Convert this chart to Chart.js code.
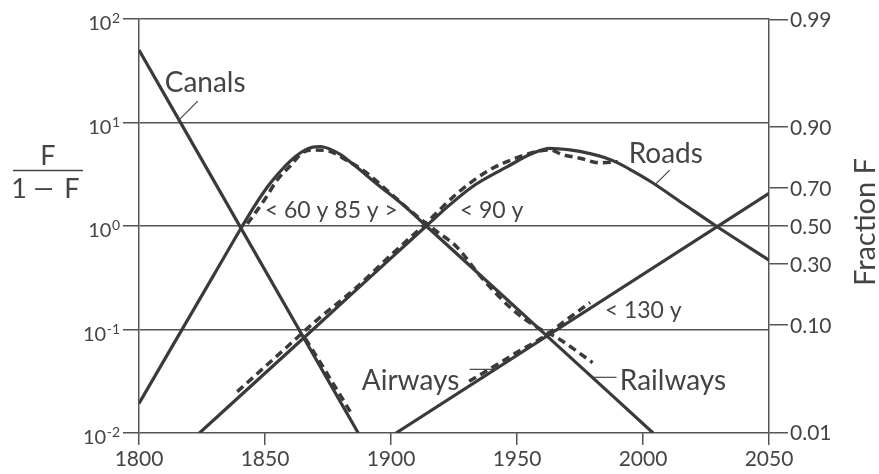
<!DOCTYPE html>
<html>
<head>
<meta charset="utf-8">
<style>
  html, body { margin: 0; padding: 0; background: #fff; }
  #wrap { width: 879px; height: 474px; }
</style>
<script src="https://cdn.jsdelivr.net/npm/chart.js@4.4.1/dist/chart.umd.min.js"></script>
</head>
<body>
<div id="wrap"><canvas id="chart" width="879" height="474"></canvas></div>
<script>
// Substitution of transport infrastructures: share F of total length, plotted as F/(1-F)

// axis ticks
const yearTicks = [1800, 1850, 1900, 1950, 2000, 2050];
const decadeTicks = [0.01, 0.1, 1, 10, 100];
const decadeExponents = ['-2', '-1', '0', '1', '2'];
const fractionTicks = [0.01, 0.10, 0.30, 0.50, 0.70, 0.90, 0.99];

// fitted trajectories (solid)
const canalsFitYears = [1800, 1887];
const canalsFitValues = [50.1, 0.01];
const railwaysFitYears = [1800, 1830, 1841, 1846, 1852, 1858, 1862, 1866, 1869, 1872, 1876, 1880, 1885, 1895, 1905, 1914, 1960, 2004];
const railwaysFitValues = [0.0193, 0.347, 1.0, 1.585, 2.57, 3.80, 4.68, 5.43, 5.78, 5.86, 5.50, 4.90, 3.94, 2.48, 1.585, 1.0, 0.0955, 0.01];
const roadsFitYears = [1824, 1870, 1900, 1914, 1920, 1932, 1946, 1956, 1963, 1971, 1979, 1985, 1990, 1996, 2003, 2016, 2029, 2050];
const roadsFitValues = [0.01, 0.105, 0.490, 1.0, 1.36, 2.37, 3.72, 5.01, 5.62, 5.43, 5.01, 4.57, 4.07, 3.39, 2.69, 1.64, 1.0, 0.468];
const airwaysFitYears = [1902, 2050];
const airwaysFitValues = [0.01, 2.07];

// observed shares (dashed)
const canalsObsYears = [1866, 1875, 1884];
const canalsObsValues = [0.0822, 0.0363, 0.0158];
const railwaysObsYears = [1843, 1850, 1855, 1860, 1865, 1870, 1876, 1882, 1890, 1900, 1910, 1918, 1926, 1936, 1948, 1958, 1966, 1980];
const railwaysObsValues = [1.05, 1.82, 2.82, 3.80, 5.13, 5.43, 5.25, 4.37, 3.31, 2.04, 1.26, 0.891, 0.631, 0.316, 0.158, 0.105, 0.083, 0.0479];
const roadsObsYears = [1839, 1850, 1860, 1870, 1886, 1900, 1914, 1926, 1939, 1950, 1958, 1963, 1968, 1975, 1983, 1990];
const roadsObsValues = [0.0251, 0.0437, 0.0724, 0.120, 0.251, 0.525, 1.07, 2.04, 3.47, 4.57, 5.25, 5.43, 4.90, 4.52, 4.07, 4.17];
const airwaysObsYears = [1931, 1940, 1950, 1960, 1970, 1979];
const airwaysObsValues = [0.0316, 0.0427, 0.0603, 0.0832, 0.126, 0.182];

const ink = '#3a3a3a';
const rule = '#555';
const textInk = '#444';
const face = 'Lato, "Open Sans", sans-serif';

function pts(xs, ys) { return xs.map((x, i) => ({ x: x, y: ys[i] })); }
function fitted(label, xs, ys) {
  return { label, data: pts(xs, ys), borderColor: ink, borderWidth: 3.2, pointRadius: 0,
           cubicInterpolationMode: 'monotone', fill: false };
}
function observed(label, xs, ys) {
  return { label, data: pts(xs, ys), borderColor: ink, borderWidth: 3.5, borderDash: [8, 5],
           pointRadius: 0, cubicInterpolationMode: 'monotone', fill: false };
}

// labels placed in data space: [text, year, log10(F/(1-F)) of baseline, font size]
const notes = [
  ['Canals', 1810.2, 1.294, 28],
  ['Roads', 1994.3, 0.607, 28],
  ['< 60 y 85 y >', 1849.9, 0.075, 23],
  ['< 90 y', 1927.3, 0.075, 23],
  ['< 130 y', 1984.8, -0.892, 23],
  ['Airways', 1888.4, -1.588, 28],
  ['Railways', 1990.8, -1.588, 28]
];
const leaders = [
  [1823.3, 1.207, 1815.4, 1.014],
  [2010.6, 0.540, 2004.6, 0.395],
  [1931.2, -1.385, 1942.3, -1.385],
  [1980.0, -1.462, 1989.5, -1.462]
];

const textLayer = {
  id: 'textLayer',
  afterDraw(chart) {
    const { ctx } = chart;
    const xs = chart.scales.x, ys = chart.scales.y, rs = chart.scales.y2;
    const X = yr => xs.getPixelForValue(yr);
    const Y = lg => ys.getPixelForValue(Math.pow(10, lg));
    ctx.save();
    ctx.fillStyle = textInk;
    ctx.strokeStyle = textInk;

    // decade labels 10^n on the left axis
    ctx.textAlign = 'right';
    ctx.textBaseline = 'alphabetic';
    decadeTicks.forEach((v, i) => {
      const gy = ys.getPixelForValue(v);
      ctx.font = '14px ' + face;
      const sup = decadeExponents[i];
      const sw = ctx.measureText(sup).width;
      ctx.fillText(sup, 120, gy + 4);
      ctx.font = '20px ' + face;
      ctx.fillText('10', 120 - sw - 0.5, gy + 11);
    });

    // fraction labels on the right axis, just past the tick marks
    ctx.textAlign = 'left';
    ctx.textBaseline = 'middle';
    ctx.font = '21px ' + face;
    fractionTicks.forEach(f => {
      ctx.fillText(f.toFixed(2), rs.left + 21, rs.getPixelForValue(f / (1 - f)) + 1);
    });

    // curve names and half-life notes
    ctx.textBaseline = 'alphabetic';
    notes.forEach(([t, yr, lg, size]) => {
      ctx.font = size + 'px ' + face;
      ctx.fillText(t, X(yr), Y(lg));
    });
    ctx.lineWidth = 1.2;
    leaders.forEach(([x1, y1, x2, y2]) => {
      ctx.beginPath();
      ctx.moveTo(X(x1), Y(y1));
      ctx.lineTo(X(x2), Y(y2));
      ctx.stroke();
    });

    // left axis title: F / (1 - F)
    ctx.font = '27px ' + face;
    ctx.textAlign = 'center';
    ctx.fillText('F', 48, 165);
    ctx.lineWidth = 1.5;
    ctx.beginPath();
    ctx.moveTo(13, 170.5);
    ctx.lineTo(83, 170.5);
    ctx.stroke();
    ctx.fillText('1', 19, 198);
    ctx.fillText('F', 72, 198);
    ctx.save();
    ctx.translate(43.5, 198);
    ctx.scale(1.45, 1);
    ctx.fillText('\u2212', 0, 0);
    ctx.restore();

    // right axis title
    ctx.translate(875, 222);
    ctx.rotate(-Math.PI / 2);
    ctx.font = '29px ' + face;
    ctx.textAlign = 'center';
    ctx.textBaseline = 'alphabetic';
    ctx.fillText('Fraction F', 0, 0);
    ctx.restore();
  }
};

new Chart(document.getElementById('chart'), {
  type: 'line',
  data: {
    datasets: [
      fitted('Canals', canalsFitYears, canalsFitValues),
      fitted('Railways', railwaysFitYears, railwaysFitValues),
      fitted('Roads', roadsFitYears, roadsFitValues),
      fitted('Airways', airwaysFitYears, airwaysFitValues),
      observed('Canals data', canalsObsYears, canalsObsValues),
      observed('Railways data', railwaysObsYears, railwaysObsValues),
      observed('Roads data', roadsObsYears, roadsObsValues),
      observed('Airways data', airwaysObsYears, airwaysObsValues)
    ]
  },
  options: {
    responsive: false,
    animation: false,
    layout: { padding: { top: 19, left: 0, right: 0, bottom: 0 } },
    plugins: { legend: { display: false }, tooltip: { enabled: false } },
    scales: {
      x: {
        type: 'linear', min: 1800, max: 2050,
        afterBuildTicks: s => { s.ticks = yearTicks.map(v => ({ value: v })); },
        afterFit: s => { s.height = 41; },
        grid: { drawOnChartArea: false, drawTicks: true, tickLength: 12, color: rule, lineWidth: 1.5 },
        border: { display: false },
        ticks: { font: { family: face, size: 21 }, color: textInk, padding: 2, maxRotation: 0,
                 autoSkip: false, callback: v => String(v) }
      },
      y: {
        type: 'logarithmic', position: 'left', min: 0.01, max: 100,
        afterBuildTicks: s => { s.ticks = decadeTicks.map(v => ({ value: v })); },
        afterFit: s => { s.width = 139; },
        grid: { color: rule, lineWidth: 1.5, tickLength: 16, drawTicks: true },
        border: { display: true, color: rule, width: 1.5 },
        ticks: { display: false }
      },
      y2: {
        type: 'logarithmic', position: 'right', min: 0.01, max: 100,
        afterBuildTicks: s => { s.ticks = fractionTicks.map(f => ({ value: f / (1 - f) })); },
        afterFit: s => { s.width = 110; },
        grid: { drawOnChartArea: false, drawTicks: true, tickLength: 19, color: rule, lineWidth: 1.5 },
        border: { display: true, color: rule, width: 1.5 },
        ticks: { display: false }
      }
    }
  },
  plugins: [textLayer]
});
</script>
</body>
</html>
